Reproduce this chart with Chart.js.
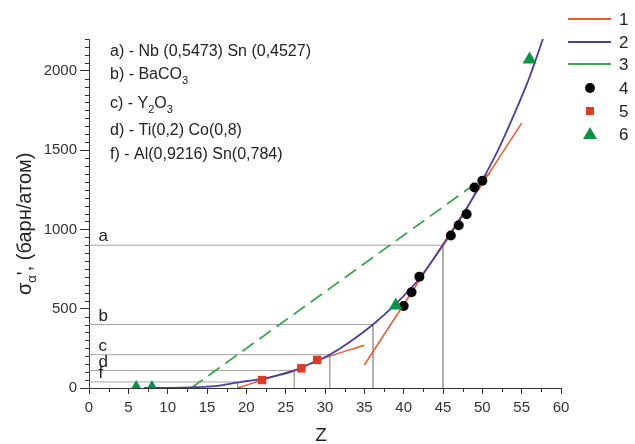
<!DOCTYPE html>
<html>
<head>
<meta charset="utf-8">
<script src="https://cdn.jsdelivr.net/npm/chart.js"></script>
<style>
  body { margin: 0; padding: 0; background: #fff; }
  #wrap { width: 635px; height: 444px; }
</style>
</head>
<body>
<div id="wrap"><canvas id="sigmaChart" width="635" height="444"></canvas></div>
<script>
// curve 1 (two straight pieces), curve 2, curve 3 : Z vs sigma
const line1aZ = [18.9, 22, 27, 29, 35];
const line1aS = [0, 50, 128, 172, 270];
const line1bZ = [35, 55];
const line1bS = [145, 1670];
const line2Z = [7, 10, 13, 16, 19, 22, 24, 26.1, 28, 30.6, 33, 36.1, 39, 42, 45, 48, 50, 52, 54, 56, 57.7];
const line2S = [0, 1, 4, 12, 36, 58, 80, 110, 150, 210, 285, 400, 530, 690, 900, 1130, 1310, 1500, 1720, 1960, 2200];
const line3Z = [13, 51];
const line3S = [0, 1355];

// measured points
const pts4Z = [40, 41, 42, 46, 47, 48, 49, 50];
const pts4S = [517, 604, 702, 961, 1026, 1096, 1264, 1306];
const pts5Z = [22, 27, 29];
const pts5S = [50, 124, 177];
const pts6Z = [6, 8, 39, 56];
const pts6S = [0, 0, 520, 2070];

// reference levels a..f
const levelNames = ['a', 'b', 'c', 'd', 'f'];
const levelS = [900, 400, 210, 110, 38];
const levelZ = [45, 36.1, 30.6, 26.1, 18.9];

const yTickValues = [0, 500, 1000, 1500, 2000];
const legendLabels = ['1', '2', '3', '4', '5', '6'];

const noteLines = [
  [['a) - Nb (0,5473) Sn (0,4527)', 0]],
  [['b) - BaCO', 0], ['3', 1]],
  [['c) - Y', 0], ['2', 1], ['O', 0], ['3', 1]],
  [['d) - Ti(0,2) Co(0,8)', 0]],
  [['f) - Al(0,9216) Sn(0,784)', 0]]
];

const ORANGE = '#e8592c';
const BLUE = '#4b3f9e';
const GREEN = '#3ea551';
const GREEN_TRI = '#0b9447';
const RED = '#dc3c26';
const FONT = "'Liberation Sans', Arial, sans-serif";

const toXY = (zs, ss) => zs.map((z, i) => ({ x: z, y: ss[i] }));

const datasets = [];

// gray guide lines: horizontal to the curve, then down to the axis
levelS.forEach((s, i) => {
  datasets.push({
    label: 'level ' + levelNames[i],
    data: [{ x: 0, y: s }, { x: levelZ[i], y: s }, { x: levelZ[i], y: 0 }],
    showLine: true,
    borderColor: '#a3a3a3',
    borderWidth: 1,
    pointRadius: 0,
    order: 10
  });
});

datasets.push({
  label: '3', data: toXY(line3Z, line3S), showLine: true,
  borderColor: GREEN, borderWidth: 1.8, borderDash: [14, 7], pointRadius: 0, order: 8
});
datasets.push({
  label: '1', data: toXY(line1aZ, line1aS), showLine: true,
  borderColor: ORANGE, borderWidth: 1.5, pointRadius: 0, cubicInterpolationMode: 'monotone', order: 7
});
datasets.push({
  label: '1b', data: toXY(line1bZ, line1bS), showLine: true,
  borderColor: ORANGE, borderWidth: 1.5, pointRadius: 0, order: 7
});
datasets.push({
  label: '2', data: toXY(line2Z, line2S), showLine: true,
  borderColor: BLUE, borderWidth: 1.8, pointRadius: 0, cubicInterpolationMode: 'monotone', order: 6
});
datasets.push({
  label: '4', data: toXY(pts4Z, pts4S), showLine: false,
  pointStyle: 'circle', pointRadius: 5, backgroundColor: '#000', borderColor: '#000', borderWidth: 0, order: 3
});
datasets.push({
  label: '5', data: toXY(pts5Z, pts5S), showLine: false,
  pointStyle: 'rect', pointRadius: 6, backgroundColor: RED, borderColor: RED, borderWidth: 0, order: 2
});
datasets.push({
  label: '6', data: toXY(pts6Z, pts6S), showLine: false, clip: 0,
  pointStyle: 'triangle', pointRadius: 8, backgroundColor: GREEN_TRI, borderColor: GREEN_TRI, borderWidth: 0, order: 1
});

const drawExtras = {
  id: 'drawExtras',
  afterDraw(chart) {
    const ctx = chart.ctx;
    const xs = chart.scales.x, ys = chart.scales.y;
    ctx.save();

    // minor ticks
    ctx.strokeStyle = '#333';
    ctx.lineWidth = 1;
    ctx.beginPath();
    for (let v = 50; v <= 2200; v += 50) {
      if (v % 500 === 0) continue;
      const py = Math.round(ys.getPixelForValue(v)) + 0.5;
      ctx.moveTo(xs.left - 4, py); ctx.lineTo(xs.left, py);
    }
    for (let v = 2.5; v < 60; v += 5) {
      const px = Math.round(xs.getPixelForValue(v)) + 0.5;
      ctx.moveTo(px, ys.bottom); ctx.lineTo(px, ys.bottom + 4);
    }
    ctx.stroke();

    // level letters
    ctx.fillStyle = '#222';
    ctx.font = '17px ' + FONT;
    ctx.textAlign = 'left';
    ctx.textBaseline = 'alphabetic';
    levelNames.forEach((n, i) => {
      ctx.fillText(n, xs.getPixelForValue(1.2), ys.getPixelForValue(levelS[i]) - 4);
    });

    // note block
    const baseY = [56, 79, 108, 135, 159];
    noteLines.forEach((parts, i) => {
      let x = 110;
      parts.forEach(([t, sub]) => {
        ctx.font = (sub ? '11px ' : '16px ') + FONT;
        ctx.fillText(t, x, baseY[i] + (sub ? 5 : 0));
        x += ctx.measureText(t).width;
      });
    });

    // y title
    ctx.save();
    ctx.translate(31, 295);
    ctx.rotate(-Math.PI / 2);
    let tx = 0;
    const seg = [['σ', 20, 0], ['α', 13, 5], ["'", 20, 0], [', (барн/атом)', 20, 0]];
    seg.forEach(([t, size, dy]) => {
      ctx.font = size + 'px ' + FONT;
      ctx.fillText(t, tx, dy);
      tx += ctx.measureText(t).width;
    });
    ctx.restore();

    // x title
    ctx.font = '19px ' + FONT;
    ctx.textAlign = 'center';
    ctx.fillText('Z', xs.getPixelForValue(29.5), 441);

    // legend
    const rowY = [19, 42, 64, 88, 111, 134];
    const lineCol = [ORANGE, BLUE, GREEN];
    ctx.textAlign = 'left';
    ctx.font = '17px ' + FONT;
    rowY.forEach((y, i) => {
      if (i < 3) {
        ctx.strokeStyle = lineCol[i];
        ctx.lineWidth = 1.8;
        ctx.beginPath(); ctx.moveTo(568, y); ctx.lineTo(611, y); ctx.stroke();
      } else if (i === 3) {
        ctx.fillStyle = '#000';
        ctx.beginPath(); ctx.arc(590, y, 5, 0, Math.PI * 2); ctx.fill();
      } else if (i === 4) {
        ctx.fillStyle = RED;
        ctx.fillRect(586, y - 4, 8, 8);
      } else {
        ctx.fillStyle = GREEN_TRI;
        ctx.beginPath(); ctx.moveTo(590, y - 7); ctx.lineTo(597, y + 5); ctx.lineTo(583, y + 5); ctx.closePath(); ctx.fill();
      }
      ctx.fillStyle = '#222';
      ctx.fillText(legendLabels[i], 619, y + 6);
    });

    ctx.restore();
  }
};

new Chart(document.getElementById('sigmaChart').getContext('2d'), {
  type: 'scatter',
  data: { datasets },
  options: {
    responsive: false,
    animation: false,
    layout: { padding: { top: 39, right: 74, left: 0, bottom: 0 } },
    plugins: { legend: { display: false }, tooltip: { enabled: false } },
    scales: {
      x: {
        type: 'linear', min: 0, max: 60,
        afterFit(scale) { scale.height = 56; },
        ticks: { stepSize: 5, autoSkip: false, color: '#333', font: { size: 15, family: FONT }, padding: 5, maxRotation: 0 },
        grid: { drawOnChartArea: false, tickLength: 6, tickColor: '#333' },
        border: { color: '#333', width: 1 }
      },
      y: {
        type: 'linear', min: 0, max: 2200,
        afterFit(scale) { scale.width = 89; },
        afterBuildTicks(scale) { scale.ticks = yTickValues.map(v => ({ value: v })); },
        ticks: { autoSkip: false, color: '#333', font: { size: 15, family: FONT }, padding: 3, callback: v => String(v) },
        grid: { drawOnChartArea: false, tickLength: 9, tickColor: '#333' },
        border: { color: '#333', width: 1 }
      }
    }
  },
  plugins: [drawExtras]
});
</script>
</body>
</html>
